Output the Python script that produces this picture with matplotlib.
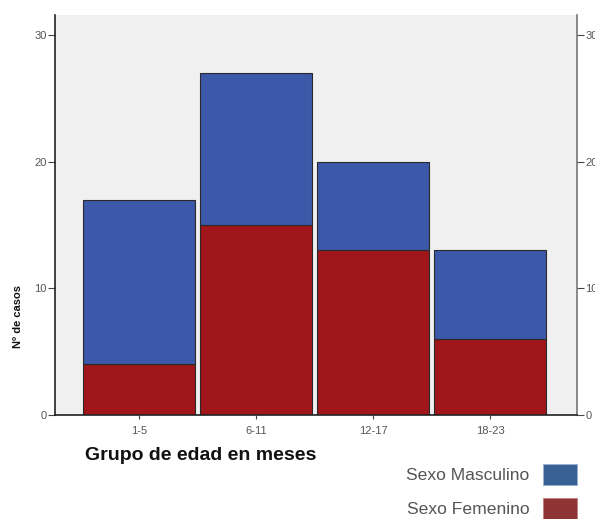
import numpy as np
import matplotlib
matplotlib.use("Agg")
import matplotlib.pyplot as plt
from matplotlib.patches import Patch

# age groups and case counts
grupos = ["1-5", "6-11", "12-17", "18-23"]
femenino = [4, 15, 13, 6]
masculino = [13, 12, 7, 7]
y_ticks = [0, 10, 20, 30]

plt.rcParams['font.family'] = ['Liberation Sans', 'DejaVu Sans']

bar_red = '#a0161a'
bar_blue = '#3c58a8'
leg_red = '#8f3434'
leg_blue = '#376095'

fig = plt.figure(figsize=(5.95, 5.19), dpi=100)
ax = fig.add_axes([55 / 595, 1 - 415 / 519, 522 / 595, 400 / 519])
ax.set_facecolor('#f0f0f0')

x = np.arange(len(grupos))
ax.bar(x, femenino, width=0.957, color=bar_red, edgecolor='#2a2a2a', linewidth=0.8)
ax.bar(x, masculino, width=0.957, bottom=femenino, color=bar_blue,
       edgecolor='#2a2a2a', linewidth=0.8)

ax.set_xlim(-0.722, 3.744)
ax.set_ylim(0, 31.6)
ax.set_xticks(x)
ax.set_xticklabels(grupos)
ax.set_yticks(y_ticks)

ax.spines['top'].set_visible(False)
ax.spines['left'].set_color('#222222')
ax.spines['bottom'].set_color('#222222')
ax.spines['right'].set_color('#777777')
for s in ['left', 'bottom', 'right']:
    ax.spines[s].set_linewidth(1.2)

ax.tick_params(axis='y', right=True, labelright=True, length=5, pad=1,
               labelsize=8, labelcolor='#555555', color='#444444')
ax.tick_params(axis='x', length=3, pad=5, labelsize=8,
               labelcolor='#555555', color='#444444')

fig.text(85 / 595, 1 - 455 / 519, "Grupo de edad en meses", ha='left', va='center',
         fontsize=14, fontweight='bold', color='#111111')
fig.text(18 / 595, 1 - 316 / 519, "Nº de casos", ha='center', va='center',
         rotation=90, fontsize=8, fontweight='bold', color='#111111')

handles = [Patch(facecolor=leg_blue, edgecolor='#9ab0d0', linewidth=0.6),
           Patch(facecolor=leg_red, edgecolor='#c08080', linewidth=0.6)]
fig.legend(handles, ["Sexo Masculino", "Sexo Femenino"],
           loc='upper right', bbox_to_anchor=(577 / 595, 1 - 464 / 519),
           frameon=False, markerfirst=False, fontsize=12.6,
           handlelength=1.95, handleheight=1.45, handletextpad=0.75,
           labelspacing=0.75, borderpad=0, borderaxespad=0,
           labelcolor='#555555')

fig.savefig("out.png", dpi=100)
